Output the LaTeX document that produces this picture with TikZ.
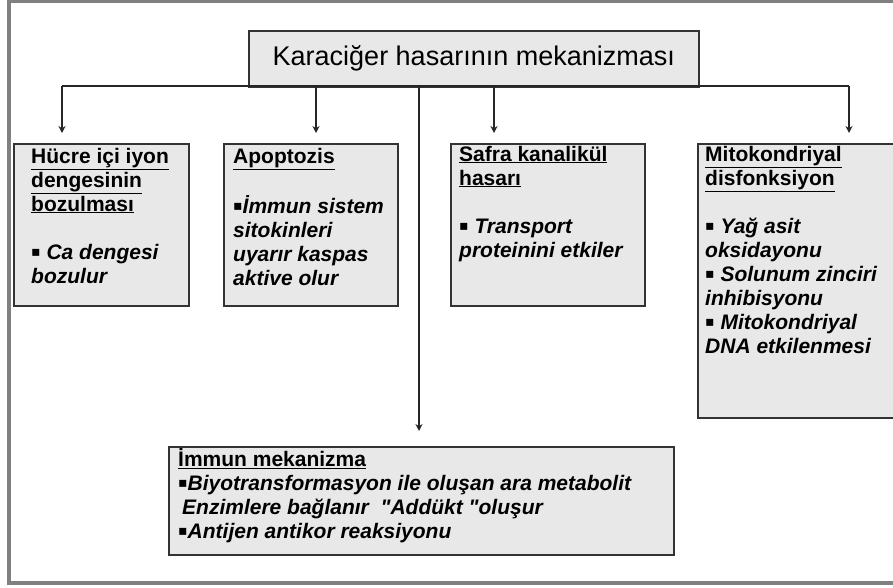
\documentclass[tikz,border=0pt]{standalone}
\usepackage{fontspec}
\setmainfont{Liberation Sans}[Ligatures=TeXOff]
\newfontfamily\simgefont{DejaVu Sans}
\usetikzlibrary{arrows.meta}

\newcommand{\cizgili}[1]{\underline{#1}}
\newcommand{\madde}{{\simgefont\mdseries\upshape\fontsize{14}{14}\selectfont\raisebox{2.5pt}{▪}}}

\tikzset{
  kutu/.style={draw=black!80, line width=1.6pt, fill=black!9, anchor=north west, inner sep=0pt},
  yazi/.style={anchor=north west, inner sep=0pt, align=left, font=\bfseries\fontsize{21}{24}\selectfont},
  ok/.style={-{Stealth[length=7pt,width=7pt]}, line width=1.3pt, draw=black!85},
  hat/.style={line width=1.3pt, draw=black!85}
}

\begin{document}
\begin{tikzpicture}[x=1pt,y=-1pt]
    %initialisation
    \useasboundingbox (0,0) rectangle (893,588);
    \clip (0,0) rectangle (893,588);
    \draw[line width=4pt, draw=black!50] (9,1) rectangle (930,583);
    %definitions
    \node[kutu, minimum width=450pt, minimum height=56pt, font=\fontsize{27}{30}\selectfont] (baslik) at (248,30) {Karaciğer hasarının mekanizması};
    \node[kutu, minimum width=175pt, minimum height=162pt] (hucre) at (13,143) {};
    \node[kutu, minimum width=174pt, minimum height=162pt] (apoptoz) at (223,143) {};
    \node[kutu, minimum width=194pt, minimum height=162pt] (safra) at (450,143) {};
    \node[kutu, minimum width=230pt, minimum height=274pt] (mito) at (697,143) {};
    \node[kutu, minimum width=505pt, minimum height=108pt] (immun) at (168,446) {};
    \coordinate (d1) at (62,86);
    \coordinate (d2) at (316,86);
    \coordinate (d3) at (419,86);
    \coordinate (d4) at (494,86);
    \coordinate (d5) at (849,86);
    %drawing
    \draw[hat] (d1) -- (d5);
    \draw[ok, shorten >=10pt] (d1) -- (d1 |- hucre.north);
    \draw[ok, shorten >=10pt] (d2) -- (d2 |- apoptoz.north);
    \draw[ok, shorten >=10pt] (d4) -- (d4 |- safra.north);
    \draw[ok, shorten >=10pt] (d5) -- (d5 |- mito.north);
    \draw[ok, shorten >=15pt] (d3) -- (d3 |- immun.north);
    %label
    \node[yazi] (hucreyazi) at ([shift={(18,3)}]hucre.north west)
      {\strut\cizgili{Hücre içi iyon}\\ \cizgili{dengesinin}\\ \cizgili{bozulması}\\[24pt]
       \madde\ \textit{Ca dengesi}\\ \textit{bozulur}};
    \node[yazi] (apoptozyazi) at ([shift={(10,3)}]apoptoz.north west)
      {\strut\cizgili{Apoptozis}\\[24pt]
       \madde\textit{İmmun sistem}\\ \textit{sitokinleri}\\ \textit{uyarır kaspas}\\ \textit{aktive olur}};
    \node[yazi] (safrayazi) at ([shift={(9,1)}]safra.north west)
      {\strut\cizgili{Safra kanalikül}\\ \cizgili{hasarı}\\[24pt]
       \madde\ \textit{Transport}\\ \textit{proteinini etkiler}};
    \node[yazi] (mitoyazi) at ([shift={(8,1)}]mito.north west)
      {\strut\cizgili{Mitokondriyal}\\ \cizgili{disfonksiyon}\\[24pt]
       \madde\ \textit{Yağ asit}\\ \textit{oksidayonu}\\
       \madde\ \textit{Solunum zinciri}\\ \textit{inhibisyonu}\\
       \madde\ \textit{Mitokondriyal}\\ \textit{DNA etkilenmesi}};
    \node[yazi] (immunyazi) at ([shift={(10,2)}]immun.north west)
      {\strut\cizgili{İmmun mekanizma}\\
       \madde\textit{Biyotransformasyon ile oluşan ara metabolit}\\
       \hspace*{4pt}\textit{Enzimlere bağlanır~ "Addükt "oluşur}\\
       \madde\textit{Antijen antikor reaksiyonu}};
\end{tikzpicture}
\end{document}
